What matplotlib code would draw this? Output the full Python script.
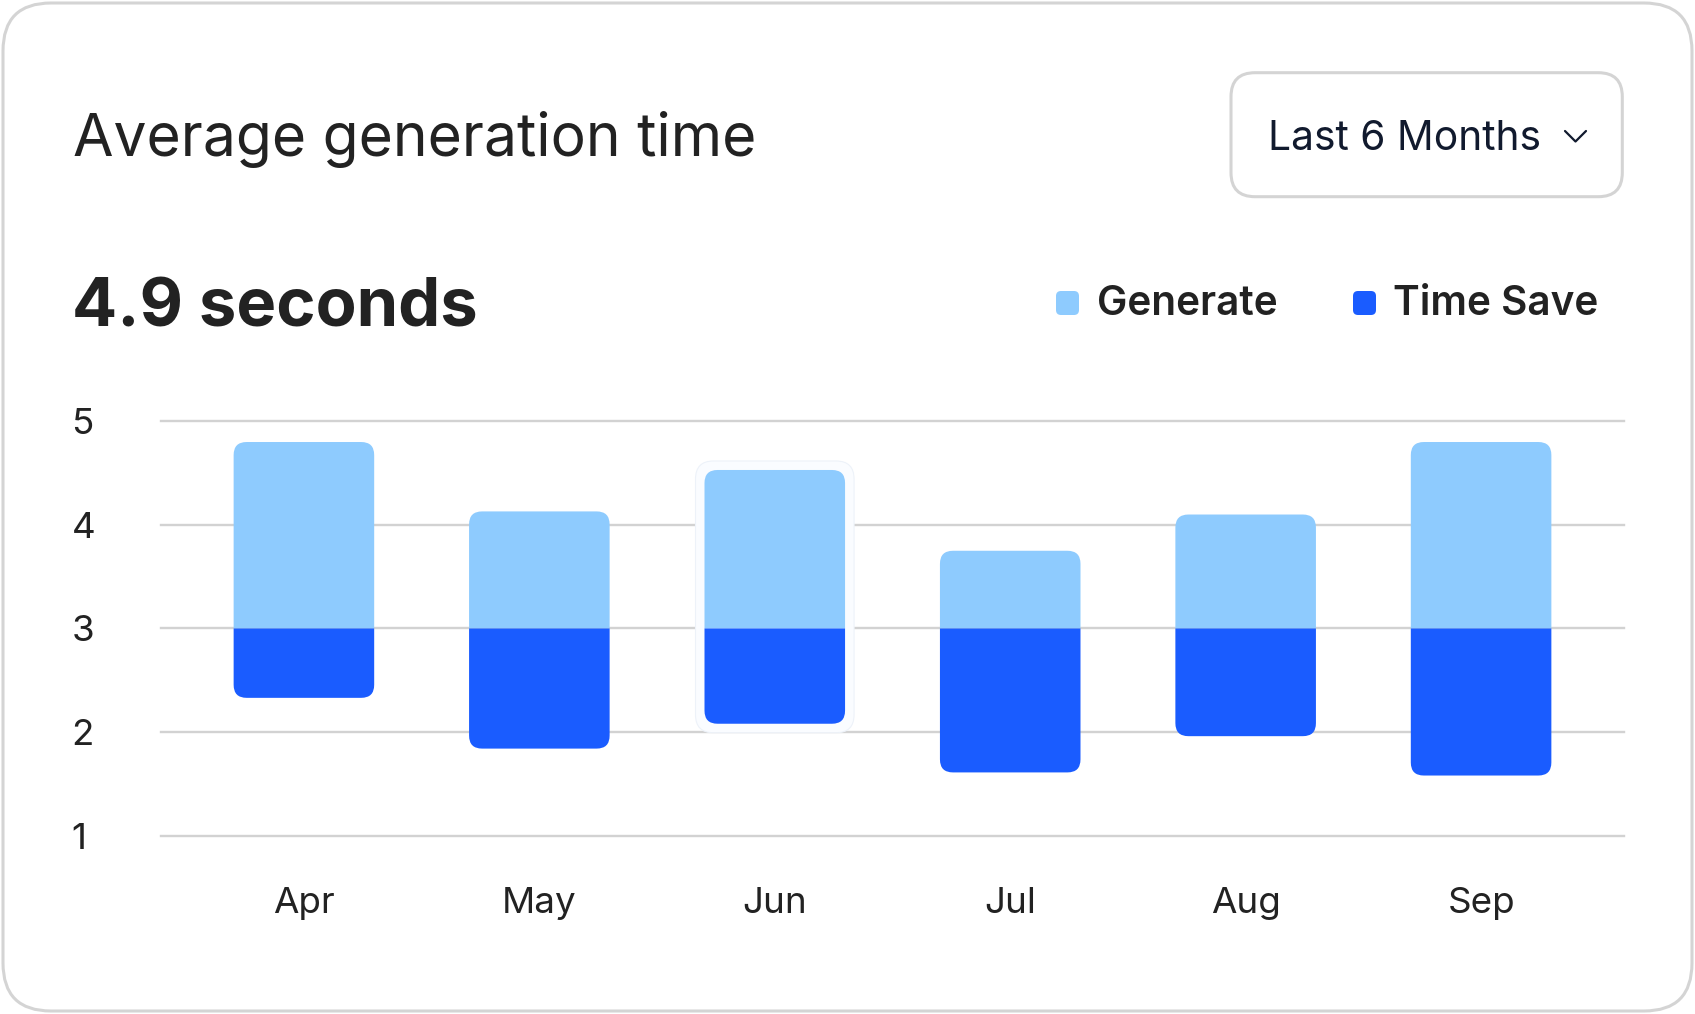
import matplotlib
matplotlib.use("Agg")
import matplotlib.pyplot as plt
from matplotlib.patches import FancyBboxPatch, PathPatch
from matplotlib.path import Path
from matplotlib.transforms import IdentityTransform
from matplotlib.lines import Line2D

# ---------------- data ----------------
months = ["Apr", "May", "Jun", "Jul", "Aug", "Sep"]
baseline = 3.0
generate = [1.80, 1.13, 1.53, 0.75, 1.10, 1.80]     # above the baseline
time_save = [0.67, 1.16, 0.92, 1.39, 1.04, 1.42]    # below the baseline
y_ticks = [1, 2, 3, 4, 5]
series_names = ["Generate", "Time Save"]
title = "Average generation time"
headline = "4.9 seconds"
period = "Last 6 Months"
highlight_index = 2

# ---------------- style ----------------
W, H, DPI = 1695, 1014, 100
C_LIGHT = "#8ecbfe"
C_DARK = "#1a5cff"
C_GRID = "#d2d2d2"
C_TEXT = "#222222"
C_NAVY = "#111a2e"
C_BORDER = "#d4d4d4"

plt.rcParams['font.family'] = ['Inter', 'DejaVu Sans']

fig = plt.figure(figsize=(W / DPI, H / DPI), dpi=DPI)
fig.patch.set_facecolor("white")
ID = IdentityTransform()


def ytop(y):
    return H - y


# card border
card = FancyBboxPatch((3, 3), W - 6, H - 6, boxstyle="round,pad=0,rounding_size=48",
                      transform=ID, fc="white", ec=C_BORDER, lw=2.2, zorder=-10)
fig.add_artist(card)

# title & headline
fig.text(73 / W, ytop(155.7) / H, title, fontsize=42.3, color=C_TEXT, va="baseline", ha="left")
fig.text(72 / W, ytop(326.7) / H, headline, fontsize=48.2, fontweight="bold", color=C_TEXT,
         va="baseline", ha="left")

# dropdown
dd = FancyBboxPatch((1231, ytop(196.7)), 1622.3 - 1231, 196.7 - 72.7,
                    boxstyle="round,pad=0,rounding_size=24", transform=ID,
                    fc="white", ec=C_BORDER, lw=2.2, zorder=1)
fig.add_artist(dd)
fig.text(1268 / W, ytop(150) / H, period, fontsize=29.3, color=C_NAVY, va="baseline", ha="left")
chev = Line2D([1565, 1575.5, 1586], [ytop(131), ytop(141.5), ytop(131)], transform=ID,
              color=C_NAVY, lw=1.6, solid_capstyle="round", solid_joinstyle="round")
fig.add_artist(chev)

# legend
for name, col, sx, tx in [(series_names[0], C_LIGHT, 1056, 1097),
                          (series_names[1], C_DARK, 1353, 1393)]:
    sq = FancyBboxPatch((sx, ytop(315)), 23, 24, boxstyle="round,pad=0,rounding_size=5",
                        transform=ID, fc=col, ec="none")
    fig.add_artist(sq)
    fig.text(tx / W, ytop(315) / H, name, fontsize=29.2, fontweight="semibold", color=C_TEXT,
             va="baseline", ha="left")

# ---------------- axes ----------------
ax_left, ax_right, ax_top, ax_bot = 161, 1624, 421.3, 835.6
ax = fig.add_axes([ax_left / W, 1 - ax_bot / H, (ax_right - ax_left) / W, (ax_bot - ax_top) / H])
ax.set_facecolor("none")
x = list(range(len(months)))
ax.set_xlim(-0.607, len(months) - 1 + 0.607)
ax.set_ylim(min(y_ticks), max(y_ticks))
for s in ax.spines.values():
    s.set_visible(False)
for t in y_ticks:
    ax.axhline(t, color=C_GRID, lw=1.7, zorder=0, clip_on=False)

ax.set_yticks(y_ticks)
ax.set_yticklabels([str(t) for t in y_ticks])
ax.set_xticks(x)
ax.set_xticklabels(months)
ax.tick_params(axis="y", length=0, pad=64.5, labelsize=26.5, labelcolor=C_TEXT)
for lab in ax.get_yticklabels():
    lab.set_horizontalalignment("left")
ax.tick_params(axis="x", length=0, pad=37, labelsize=26.5, labelcolor=C_TEXT)

# pixel -> data conversions for round corners
fig.canvas.draw()
bbox = ax.get_window_extent()
xu_per_px = (ax.get_xlim()[1] - ax.get_xlim()[0]) / bbox.width
yu_per_px = (ax.get_ylim()[1] - ax.get_ylim()[0]) / bbox.height
aspect = yu_per_px / xu_per_px
r_px = 13
r_x = r_px * xu_per_px
r_y = r_px * yu_per_px
bw = 0.597


def segment(xc, y0, h, color, round_top):
    x0, x1 = xc - bw / 2, xc + bw / 2
    y1 = y0 + h
    ry = min(r_y, h / 2)
    if round_top:
        verts = [(x0, y0), (x1, y0), (x1, y1 - ry), (x1, y1), (x1 - r_x, y1),
                 (x0 + r_x, y1), (x0, y1), (x0, y1 - ry), (x0, y0)]
        codes = [Path.MOVETO, Path.LINETO, Path.LINETO, Path.CURVE3, Path.CURVE3,
                 Path.LINETO, Path.CURVE3, Path.CURVE3, Path.CLOSEPOLY]
    else:
        verts = [(x0, y1), (x0, y0 + ry), (x0, y0), (x0 + r_x, y0),
                 (x1 - r_x, y0), (x1, y0), (x1, y0 + ry), (x1, y1), (x0, y1)]
        codes = [Path.MOVETO, Path.LINETO, Path.CURVE3, Path.CURVE3,
                 Path.LINETO, Path.CURVE3, Path.CURVE3, Path.LINETO, Path.CLOSEPOLY]
    ax.add_patch(PathPatch(Path(verts, codes), fc=color, ec="none", lw=0, zorder=3))


# hover highlight around one bar
hi = highlight_index
pad_x = 9 * xu_per_px
pad_y = 9 * yu_per_px
hl = FancyBboxPatch((x[hi] - bw / 2 - pad_x, baseline - time_save[hi] - pad_y),
                    bw + 2 * pad_x, generate[hi] + time_save[hi] + 2 * pad_y,
                    boxstyle=f"round,pad=0,rounding_size={18 * xu_per_px}",
                    mutation_aspect=aspect, fc="#fafcff", ec="#edf2f9", lw=0.8, zorder=2)
ax.add_patch(hl)

for xi, g, t in zip(x, generate, time_save):
    segment(xi, baseline, g, C_LIGHT, round_top=True)
    segment(xi, baseline - t, t, C_DARK, round_top=False)

fig.savefig("out.png", dpi=DPI, facecolor="white")
